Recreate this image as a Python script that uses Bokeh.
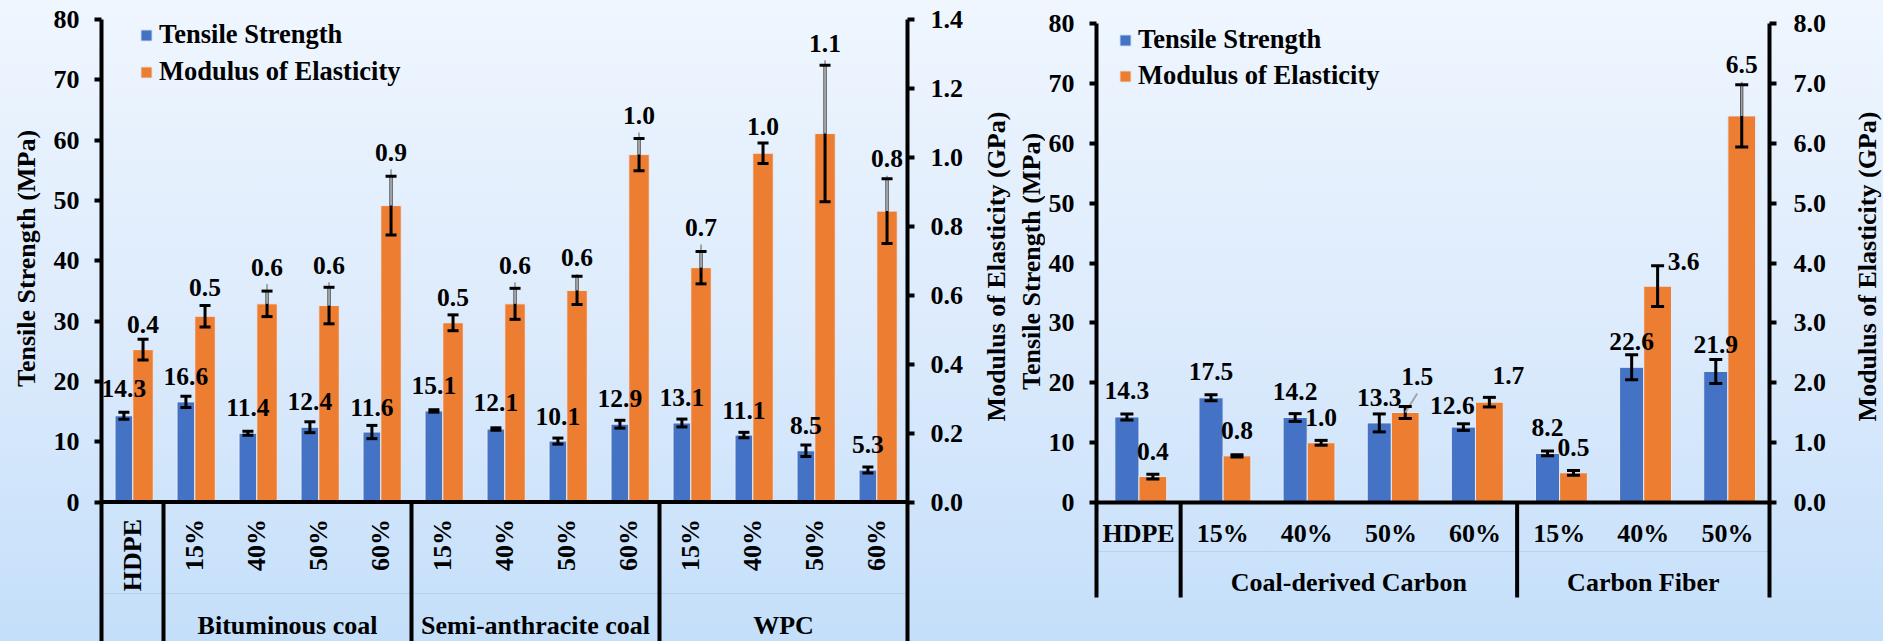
import math

from bokeh.core.properties import value
from bokeh.embed import file_html
from bokeh.layouts import row
from bokeh.models import (ColumnDataSource, FixedTicker, Legend, LegendItem,
                          LinearAxis, PrintfTickFormatter, Range1d)
from bokeh.plotting import figure
from bokeh.resources import INLINE

# ---------------------------------------------------------------------------
# Data: HDPE composites with coal fillers and wood-plastic composite (WPC)
# ---------------------------------------------------------------------------
left_categories = ["HDPE", "15%", "40%", "50%", "60%", "15%", "40%", "50%", "60%",
                   "15%", "40%", "50%", "60%"]
left_groups = [None] + ["Bituminous coal"] * 4 + ["Semi-anthracite coal"] * 4 + ["WPC"] * 4
left_tensile = [14.3, 16.6, 11.4, 12.4, 11.6, 15.1, 12.1, 10.1, 12.9, 13.1, 11.1, 8.5, 5.3]
left_tensile_err = [0.6, 0.95, 0.35, 0.9, 1.1, 0.2, 0.2, 0.5, 0.65, 0.65, 0.45, 0.95, 0.5]
left_modulus = [0.442, 0.539, 0.575, 0.570, 0.860, 0.520, 0.575, 0.614, 1.008, 0.680,
                1.012, 1.069, 0.844]
left_modulus_err = [0.030, 0.031, 0.037, 0.053, 0.085, 0.023, 0.045, 0.041, 0.047, 0.047,
                    0.030, 0.198, 0.094]

# Data: HDPE with coal-derived carbon and carbon fiber
right_categories = ["HDPE", "15%", "40%", "50%", "60%", "15%", "40%", "50%"]
right_groups = [None] + ["Coal-derived Carbon"] * 4 + ["Carbon Fiber"] * 3
right_tensile = [14.3, 17.5, 14.2, 13.3, 12.6, 8.2, 22.6, 21.9]
right_tensile_err = [0.5, 0.5, 0.65, 1.5, 0.55, 0.4, 2.1, 2.0]
right_modulus = [0.434, 0.78, 0.998, 1.504, 1.677, 0.496, 3.615, 6.46]
right_modulus_err = [0.04, 0.02, 0.04, 0.10, 0.08, 0.04, 0.34, 0.52]

tensile_ticks = [0, 10, 20, 30, 40, 50, 60, 70, 80]
left_modulus_ticks = [0.0, 0.2, 0.4, 0.6, 0.8, 1.0, 1.2, 1.4]
right_modulus_ticks = [0.0, 1.0, 2.0, 3.0, 4.0, 5.0, 6.0, 7.0, 8.0]

TENSILE_TITLE = "Tensile Strength (MPa)"
MODULUS_TITLE = "Modulus of Elasticity (GPa)"

# ---------------------------------------------------------------------------
# Styling
# ---------------------------------------------------------------------------
FONT = "Liberation Serif"
BLUE = "#4472C4"
ORANGE = "#ED7D31"
BAR_EDGE = "#e4edf8"
GRADIENT = "linear-gradient(to bottom, #eff6fe 0%, #dbeafc 55%, #c4dffa 100%)"

HEIGHT = 641
FRAME_TOP = 19          # every figure in the row shares the same vertical frame
FRAME_BOTTOM = 641

# bar geometry in category units
BLUE_SHIFT, BLUE_W = -0.1385, 0.287
ORANGE_SHIFT, ORANGE_W = 0.170, 0.330

# value-label placement (screen pixels relative to the top of the error bar)
left_tensile_dy = [-24, -20, -24, -20, -18, -24, -25, -22, -22, -22, -22, -20, -23]
left_tensile_dx = [0] * 13
left_modulus_dy = [-15, -18, -24, -22, -24, -17, -23, -19, -23, -24, -16, -22, -20]
left_modulus_dx = [0] * 13
left_modulus_leader = [0, 0, 1, 1, 1, 0, 1, 1, 1, 1, 0, 1, 1]

right_tensile_dy = [-23, -23, -22, -16, -18, -24, -13, -15]
right_tensile_dx = [0, 0, 0, 0, -11, 0, 0, 0]
right_modulus_dy = [-23, -24, -23, -30, -22, -23, -4, -20]
right_modulus_dx = [0, 0, 0, 12, 19, 0, 26, 0]
right_modulus_leader = [0, 0, 0, 1, 0, 0, 0, 1]


def base_figure(width, x_range, y_range, border_left=0, border_right=0, **kw):
    p = figure(width=width, height=HEIGHT, x_range=x_range, y_range=y_range,
               output_backend="svg", toolbar_location=None,
               min_border_left=border_left, min_border_right=border_right,
               min_border_top=FRAME_TOP, min_border_bottom=HEIGHT - FRAME_BOTTOM,
               outline_line_color=None, background_fill_alpha=0,
               border_fill_alpha=0, **kw)
    p.styles = {"background": GRADIENT}
    p.grid.visible = False
    return p


def title_strip(x_start, x_end, titles):
    """Narrow figure holding vertical axis titles; coordinates are page pixels."""
    p = base_figure(x_end - x_start, Range1d(x_start, x_end),
                    Range1d(FRAME_BOTTOM, FRAME_TOP),
                    x_axis_location=None, y_axis_location=None)
    p.text(x=[t[1] for t in titles], y=[t[2] for t in titles],
           text=[t[0] for t in titles], angle=math.pi / 2,
           text_align="center", text_baseline="middle",
           text_font=value(FONT), text_font_style="bold",
           text_font_size=value("26px"), text_color="black")
    return p


def style_axis(ax, ticks, fmt, tick_standoff, bounds):
    ax.ticker = FixedTicker(ticks=ticks)
    if fmt:
        ax.formatter = PrintfTickFormatter(format=fmt)
    ax.bounds = bounds
    ax.major_label_standoff = tick_standoff
    ax.major_label_text_font = FONT
    ax.major_label_text_font_size = "26px"
    ax.major_label_text_font_style = "bold"
    ax.major_label_text_color = "black"
    ax.axis_line_width = 4
    ax.axis_line_color = "black"
    ax.major_tick_line_width = 4
    ax.major_tick_line_color = "black"
    ax.major_tick_out = 7
    ax.major_tick_in = 0
    ax.minor_tick_line_color = None


def build_panel(categories, groups, tensile, tensile_err, modulus, modulus_err,
                tensile_dx, tensile_dy, modulus_dx, modulus_dy, modulus_leader, *,
                mod_max, mod_ticks, width, border_left, border_right,
                top_px, zero_px, axis_end_px, rotated, sub_offset,
                group_offset, divider_offset, cap, legend_xy, legend_spacing,
                tick_standoffs):
    n = len(categories)
    frame_w = width - border_left - border_right
    ppc = frame_w / n                              # pixels per category
    ppu = (zero_px - top_px) / 80.0                # pixels per MPa
    y_hi = 80 + (top_px - FRAME_TOP) / ppu
    y_lo = -(FRAME_BOTTOM - zero_px) / ppu
    axis_lo = -(axis_end_px - zero_px) / ppu
    mod_scale = mod_max / 80.0
    ppu_mod = ppu / mod_scale

    p = base_figure(width, Range1d(0, n), Range1d(y_lo, y_hi),
                    border_left=border_left, border_right=border_right,
                    x_axis_location=None)
    p.extra_y_ranges = {"mod": Range1d(y_lo * mod_scale, y_hi * mod_scale)}

    xb = [i + 0.5 + BLUE_SHIFT for i in range(n)]
    xo = [i + 0.5 + ORANGE_SHIFT for i in range(n)]

    src_t = ColumnDataSource(dict(
        x=xb, top=tensile,
        lo=[v - e for v, e in zip(tensile, tensile_err)],
        hi=[v + e for v, e in zip(tensile, tensile_err)],
        label=[f"{v:.1f}" for v in tensile], dx=tensile_dx, dy=tensile_dy))
    src_m = ColumnDataSource(dict(
        x=xo, top=modulus,
        lo=[v - e for v, e in zip(modulus, modulus_err)],
        hi=[v + e for v, e in zip(modulus, modulus_err)],
        label=[f"{v:.1f}" for v in modulus], dx=modulus_dx, dy=modulus_dy))

    r_t = p.vbar(x="x", top="top", bottom=0, width=BLUE_W, source=src_t,
                 fill_color=BLUE, line_color=BAR_EDGE, line_width=1)
    r_m = p.vbar(x="x", top="top", bottom=0, width=ORANGE_W, source=src_m,
                 fill_color=ORANGE, line_color=BAR_EDGE, line_width=1,
                 y_range_name="mod")

    # category axis: baseline, group dividers and a faint row divider
    p.segment(x0=[0], y0=[0], x1=[n], y1=[0], line_color="black", line_width=4)
    p.segment(x0=[0], y0=[-divider_offset / ppu], x1=[n], y1=[-divider_offset / ppu],
              line_color="black", line_alpha=0.07, line_width=1)
    bounds = [i for i in range(1, n) if groups[i] != groups[i - 1]]
    p.segment(x0=bounds, y0=[0] * len(bounds), x1=bounds,
              y1=[axis_lo] * len(bounds), line_color="black", line_width=4)

    # error bars
    p.segment(x0="x", y0="lo", x1="x", y1="hi", source=src_t,
              line_color="black", line_width=3)
    p.segment(x0="x", y0="lo", x1="x", y1="hi", source=src_m,
              line_color="black", line_width=3, y_range_name="mod")

    # label leader lines
    lead = [i for i in range(n) if modulus_leader[i]]
    if lead:
        hi_m = src_m.data["hi"]
        p.segment(x0=[xo[i] for i in lead], y0=[modulus[i] for i in lead],
                  x1=[xo[i] + modulus_dx[i] / ppc for i in lead],
                  y1=[hi_m[i] + (-modulus_dy[i] - 17) / ppu_mod for i in lead],
                  line_color="#a3a3a3", line_width=2, y_range_name="mod")

    for src, rng in ((src_t, "default"), (src_m, "mod")):
        for key in ("lo", "hi"):
            p.scatter(x="x", y=key, source=src, marker="dash", size=cap,
                      line_color="black", line_width=3, y_range_name=rng)

    # value labels
    text_style = dict(text_font=value(FONT), text_font_style="bold",
                      text_font_size=value("25.5px"), text_color="black",
                      text_align="center", text_baseline="middle")
    p.text(x="x", y="hi", text="label", x_offset="dx", y_offset="dy",
           source=src_t, **text_style)
    p.text(x="x", y="hi", text="label", x_offset="dx", y_offset="dy",
           source=src_m, y_range_name="mod", **text_style)

    # category labels
    cat_style = dict(text_font=value(FONT), text_font_style="bold",
                     text_font_size=value("26px"), text_color="black")
    xs = [i + 0.5 for i in range(n)]
    if rotated:
        p.text(x=xs, y=[0] * n, text=categories, y_offset=sub_offset,
               angle=math.pi / 2, text_align="right", text_baseline="middle",
               **cat_style)
    else:
        p.text(x=xs, y=[0] * n, text=categories, y_offset=sub_offset,
               text_align="center", text_baseline="middle", **cat_style)

    g_names, g_x = [], []
    i = 0
    while i < n:
        j = i
        while j + 1 < n and groups[j + 1] == groups[i]:
            j += 1
        if groups[i] is not None:
            g_names.append(groups[i])
            g_x.append((i + j + 1) / 2)
        i = j + 1
    p.text(x=g_x, y=[0] * len(g_x), text=g_names, y_offset=group_offset,
           text_align="center", text_baseline="middle", **cat_style)

    # axes
    style_axis(p.yaxis[0], tensile_ticks, None, tick_standoffs[0], (axis_lo, 80))
    rax = LinearAxis(y_range_name="mod")
    style_axis(rax, mod_ticks, "%.1f", tick_standoffs[1],
               (axis_lo * mod_scale, mod_max))
    p.add_layout(rax, "right")

    # legend
    row_h = 30
    frame_h = FRAME_BOTTOM - FRAME_TOP
    lx, ly = legend_xy
    legend_h = 2 * row_h + legend_spacing
    legend = Legend(items=[LegendItem(label="Tensile Strength", renderers=[r_t]),
                           LegendItem(label="Modulus of Elasticity", renderers=[r_m])],
                    location=(lx, frame_h - ly - legend_h),
                    orientation="vertical", padding=0, margin=0,
                    spacing=legend_spacing, glyph_width=14, glyph_height=14,
                    label_height=row_h, label_standoff=6,
                    label_text_font=FONT, label_text_font_size="26.5px",
                    label_text_font_style="bold", label_text_color="black",
                    border_line_color=None, background_fill_alpha=0)
    p.add_layout(legend)
    return p


# page columns (pixels): title | left chart | titles | right chart | title
X0, X1, X2, X3, X4 = 0, 45, 970, 1045, 1840
PAGE_W = 1883

left_panel = build_panel(
    left_categories, left_groups, left_tensile, left_tensile_err,
    left_modulus, left_modulus_err, left_tensile_dx, left_tensile_dy,
    left_modulus_dx, left_modulus_dy, left_modulus_leader,
    mod_max=1.4, mod_ticks=left_modulus_ticks, width=X2 - X1,
    border_left=101 - X1, border_right=(X2 - X1) - (101 - X1) - 806,
    top_px=19, zero_px=501.5, axis_end_px=641, rotated=True, sub_offset=17,
    group_offset=123.5, divider_offset=91.5, cap=11, legend_xy=(38, 2),
    legend_spacing=6, tick_standoffs=(15, 16))

right_panel = build_panel(
    right_categories, right_groups, right_tensile, right_tensile_err,
    right_modulus, right_modulus_err, right_tensile_dx, right_tensile_dy,
    right_modulus_dx, right_modulus_dy, right_modulus_leader,
    mod_max=8.0, mod_ticks=right_modulus_ticks, width=X4 - X3,
    border_left=1096 - X3, border_right=(X4 - X3) - (1096 - X3) - 673,
    top_px=23.3, zero_px=502, axis_end_px=597, rotated=False, sub_offset=31,
    group_offset=80, divider_offset=49, cap=13, legend_xy=(22, 7),
    legend_spacing=5, tick_standoffs=(15, 17))

title_a = title_strip(X0, X1, [(TENSILE_TITLE, 26, 258)])
title_b = title_strip(X2, X3, [(MODULUS_TITLE, 996, 266), (TENSILE_TITLE, 1031, 261)])
title_c = title_strip(X4, PAGE_W, [(MODULUS_TITLE, 1866.7, 266)])

layout = row(title_a, left_panel, title_b, right_panel, title_c, spacing=0)

with open("out.html", "w") as f:
    f.write(file_html(layout, INLINE))
